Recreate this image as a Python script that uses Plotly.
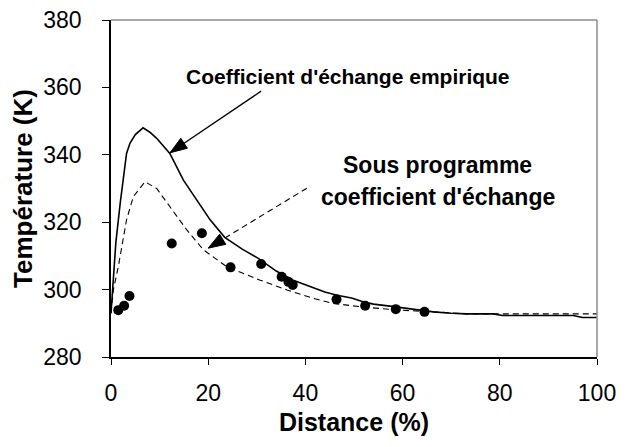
import plotly.graph_objects as go

# Solid curve: empirical exchange coefficient
solid_x = [0, 0.5, 1.0, 1.9, 3.2, 3.9, 5.0, 6.6, 8.0, 9.4, 12.1, 14.9, 17.6, 20.4, 23.4,
           27.0, 30.4, 34.0, 37.5, 41.0, 44.0, 46.5, 49.5, 52.0, 54.0, 57.4, 62.0, 66.3,
           70.0, 73.2, 78.7, 80.5, 95.1, 97.0, 100]
solid_T = [293, 303, 314, 325.7, 340.4, 343.4, 346.0, 348.0, 346.7, 344.9, 340.4, 332.5,
           326.6, 320.7, 315.5, 312.0, 309.2, 305.5, 302.8, 300.8, 299.3, 298.3, 297.5,
           296.3, 295.7, 295.1, 294.3, 293.4, 293.0, 292.8, 292.8, 292.3, 292.3, 291.7, 291.7]

# Dashed curve: exchange coefficient sub-programme
dash_x = [0, 0.5, 1.5, 3.2, 4.6, 7.0, 9.4, 12.1, 15.6, 19.0, 23.8, 30.7, 36.2, 41.6,
          45.7, 52.0, 59.5, 66.3, 73.2, 100]
dash_T = [293, 300, 306.8, 320.7, 327.6, 332.0, 330.0, 324.6, 317.7, 311.8, 306.8, 302.8,
          299.9, 297.4, 295.9, 294.8, 293.9, 293.4, 292.8, 292.8]

# Measured points
pts_x = [1.5, 2.7, 3.8, 12.5, 18.7, 24.6, 30.9, 35.1, 36.5, 37.4, 46.4, 52.3, 58.6, 64.5]
pts_T = [293.9, 295.2, 298.1, 313.7, 316.7, 306.6, 307.6, 303.8, 302.3, 301.4, 297.1,
         295.2, 294.2, 293.4]

x_ticks = [0, 20, 40, 60, 80, 100]
y_ticks = [280, 300, 320, 340, 360, 380]

FONT = "Liberation Sans, Arial, sans-serif"

fig = go.Figure()
fig.add_trace(go.Scatter(x=solid_x, y=solid_T, mode="lines",
                         line=dict(color="black", width=1.6), showlegend=False))
fig.add_trace(go.Scatter(x=dash_x, y=dash_T, mode="lines",
                         line=dict(color="black", width=1.1, dash="6px,4px"), showlegend=False))
fig.add_trace(go.Scatter(x=pts_x, y=pts_T, mode="markers",
                         marker=dict(color="black", size=10), showlegend=False))

# top/right gray frame
fig.add_shape(type="line", xref="paper", yref="paper", x0=0, x1=1, y0=1, y1=1,
              line=dict(color="#8c8c8c", width=1.5))
fig.add_shape(type="line", xref="paper", yref="paper", x0=1, x1=1, y0=0, y1=1,
              line=dict(color="#8c8c8c", width=1.5))

# solid arrow: shaft + head
fig.add_shape(type="line", xref="x", yref="y", x0=30.9, y0=358.9, x1=12.14, y1=340.6,
              line=dict(color="black", width=1.3))
fig.add_shape(type="path", xref="x", yref="y", xsizemode="pixel", ysizemode="pixel",
              xanchor=12.14, yanchor=340.6,
              path="M0,0 L17.4,4.5 L10.8,14.5 Z",
              fillcolor="black", line=dict(color="black", width=1))
# dashed arrow: dashed shaft + head
fig.add_shape(type="line", xref="x", yref="y", x0=40.3, y0=330.1, x1=20.0, y1=312.3,
              line=dict(color="black", width=1.1, dash="6px,4px"))
fig.add_shape(type="path", xref="x", yref="y", xsizemode="pixel", ysizemode="pixel",
              xanchor=20.0, yanchor=312.3,
              path="M0,0 L17.6,3.8 L11.4,14.0 Z",
              fillcolor="black", line=dict(color="black", width=1))

fig.add_annotation(x=48.8, y=363.2, xref="x", yref="y", showarrow=False,
                   text="<b>Coefficient d'échange empirique</b>",
                   font=dict(family=FONT, size=21, color="black"))
fig.add_annotation(x=67.2, y=337.1, xref="x", yref="y", showarrow=False,
                   text="<b>Sous programme</b>",
                   font=dict(family=FONT, size=23, color="black"))
fig.add_annotation(x=67.2, y=327.5, xref="x", yref="y", showarrow=False,
                   text="<b>coefficient d'échange</b>",
                   font=dict(family=FONT, size=23, color="black"))

fig.update_xaxes(range=[0, 100], tickvals=x_ticks, ticktext=[str(v) for v in x_ticks],
                 showgrid=False, zeroline=False, showline=True, linecolor="black",
                 linewidth=1.5, ticks="outside", ticklen=6, tickcolor="black",
                 tickfont=dict(family=FONT, size=23, color="black"),
                 ticklabelstandoff=9, automargin=False, ticklabeloverflow="allow",
                 title=dict(text="<b>Distance (%)</b>", standoff=8,
                            font=dict(family=FONT, size=25, color="black")))
fig.update_yaxes(range=[280, 380], tickvals=y_ticks, ticktext=[str(v) for v in y_ticks],
                 showgrid=False, zeroline=False, showline=True, linecolor="black",
                 linewidth=1.5, ticks="outside", ticklen=7, tickcolor="black",
                 tickfont=dict(family=FONT, size=23, color="black"),
                 ticklabelstandoff=16, automargin=False, ticklabeloverflow="allow",
                 title=dict(text="<b>Température (K)</b>", standoff=8,
                            font=dict(family=FONT, size=26, color="black")))

fig.update_layout(width=633, height=447, plot_bgcolor="white", paper_bgcolor="white",
                  margin=dict(l=103, r=44, t=12, b=98), showlegend=False)

fig.write_html("out.html")
